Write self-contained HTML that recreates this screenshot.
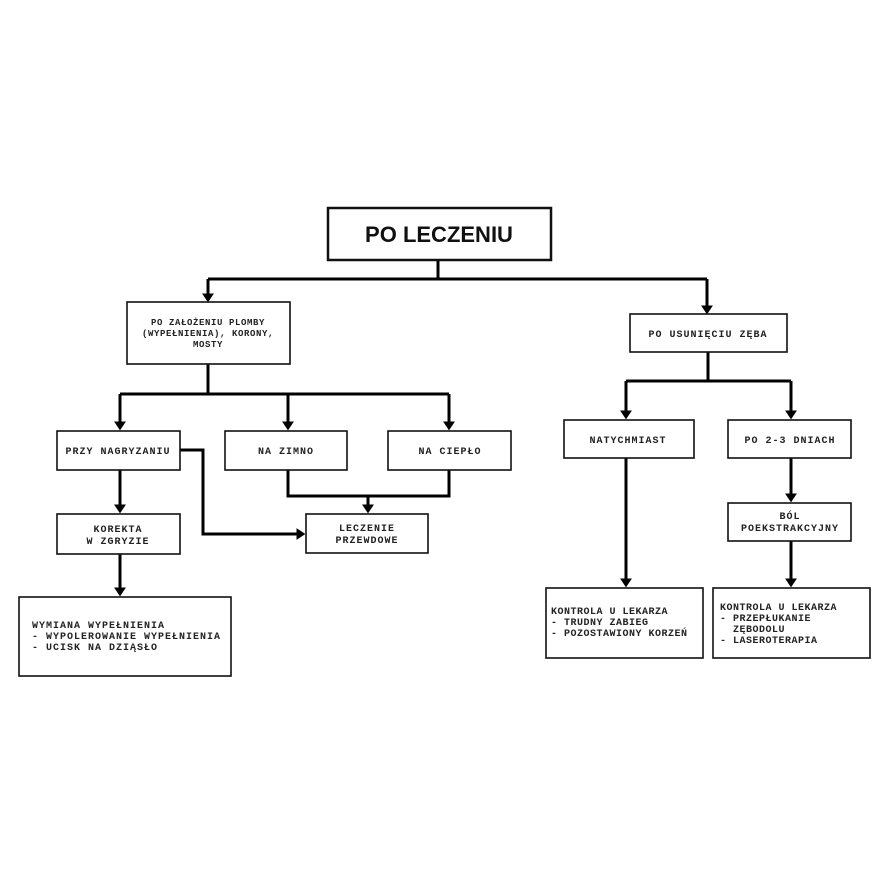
<!DOCTYPE html>
<html><head><meta charset="utf-8"><style>
body{margin:0;background:#fff}
svg{display:block}
.b{fill:#fff;stroke:#111;stroke-width:1.6}
.l{fill:none;stroke:#000;stroke-width:3}
.t{font-family:"Liberation Mono",monospace;font-weight:bold;font-size:10px;fill:#222;letter-spacing:1px}
</style></head><body>
<svg width="883" height="883" viewBox="0 0 883 883" xmlns="http://www.w3.org/2000/svg">
<defs><marker id="a" markerWidth="4" markerHeight="4" refX="2.2" refY="2" orient="auto" markerUnits="strokeWidth"><path d="M0,0 L3,2 L0,4 z" fill="#000"/></marker></defs>
<g class="l">
<path d="M438,260 V279 M208,279 H707"/>
<path d="M208,279 V300" marker-end="url(#a)"/>
<path d="M707,279 V312" marker-end="url(#a)"/>
<path d="M208,364 V394 M120,394 H449"/>
<path d="M120,394 V428" marker-end="url(#a)"/>
<path d="M288,394 V428" marker-end="url(#a)"/>
<path d="M449,394 V428" marker-end="url(#a)"/>
<path d="M288,470 V496 H449 V470 M368,496 V511" marker-end="url(#a)"/>
<path d="M180,450 H203 V534 H303" marker-end="url(#a)"/>
<path d="M120,470 V511" marker-end="url(#a)"/>
<path d="M120,554 V594" marker-end="url(#a)"/>
<path d="M708,352 V381 M626,381 H791"/>
<path d="M626,381 V417" marker-end="url(#a)"/>
<path d="M791,381 V417" marker-end="url(#a)"/>
<path d="M626,458 V585" marker-end="url(#a)"/>
<path d="M791,458 V500" marker-end="url(#a)"/>
<path d="M791,541 V585" marker-end="url(#a)"/>
</g>
<rect class="b" x="328" y="208" width="223" height="52" style="stroke-width:2.5"/>
<text x="439" y="242" text-anchor="middle" font-family="Liberation Sans,sans-serif" font-weight="bold" font-size="22" fill="#111">PO LECZENIU</text>
<rect class="b" x="127" y="302" width="163" height="62"/>
<text class="t" text-anchor="middle" style="font-size:9px;letter-spacing:0.6px"><tspan x="208" y="325">PO ZAŁOŻENIU PLOMBY</tspan><tspan x="208" y="336">(WYPEŁNIENIA), KORONY,</tspan><tspan x="208" y="347">MOSTY</tspan></text>
<rect class="b" x="57" y="431" width="123" height="39"/>
<text class="t" x="118" y="454" text-anchor="middle">PRZY NAGRYZANIU</text>
<rect class="b" x="225" y="431" width="122" height="39"/>
<text class="t" x="286" y="454" text-anchor="middle">NA ZIMNO</text>
<rect class="b" x="388" y="431" width="123" height="39"/>
<text class="t" x="450" y="454" text-anchor="middle">NA CIEPŁO</text>
<rect class="b" x="57" y="514" width="123" height="40"/>
<text class="t" text-anchor="middle"><tspan x="118" y="532">KOREKTA</tspan><tspan x="118" y="544">W ZGRYZIE</tspan></text>
<rect class="b" x="306" y="514" width="122" height="39"/>
<text class="t" text-anchor="middle"><tspan x="367" y="531">LECZENIE</tspan><tspan x="367" y="543">PRZEWDOWE</tspan></text>
<rect class="b" x="19" y="597" width="212" height="79"/>
<text class="t"><tspan x="32" y="628">WYMIANA WYPEŁNIENIA</tspan><tspan x="32" y="639">- WYPOLEROWANIE WYPEŁNIENIA</tspan><tspan x="32" y="650">- UCISK NA DZIĄSŁO</tspan></text>
<rect class="b" x="630" y="314" width="157" height="38"/>
<text class="t" x="708" y="337" text-anchor="middle">PO USUNIĘCIU ZĘBA</text>
<rect class="b" x="564" y="420" width="130" height="38"/>
<text class="t" x="628" y="443" text-anchor="middle">NATYCHMIAST</text>
<rect class="b" x="728" y="420" width="123" height="38"/>
<text class="t" x="790" y="443" text-anchor="middle">PO 2-3 DNIACH</text>
<rect class="b" x="728" y="503" width="123" height="38"/>
<text class="t" text-anchor="middle"><tspan x="790" y="519">BÓL</tspan><tspan x="790" y="531">POEKSTRAKCYJNY</tspan></text>
<rect class="b" x="546" y="588" width="157" height="70"/>
<text class="t" style="letter-spacing:0.5px"><tspan x="551" y="614">KONTROLA U LEKARZA</tspan><tspan x="551" y="625">- TRUDNY ZABIEG</tspan><tspan x="551" y="636">- POZOSTAWIONY KORZEŃ</tspan></text>
<rect class="b" x="713" y="588" width="157" height="70"/>
<text class="t" style="letter-spacing:0.5px"><tspan x="720" y="610">KONTROLA U LEKARZA</tspan><tspan x="720" y="621">- PRZEPŁUKANIE</tspan><tspan x="733" y="632">ZĘBODOLU</tspan><tspan x="720" y="643">- LASEROTERAPIA</tspan></text>
</svg>
</body></html>
